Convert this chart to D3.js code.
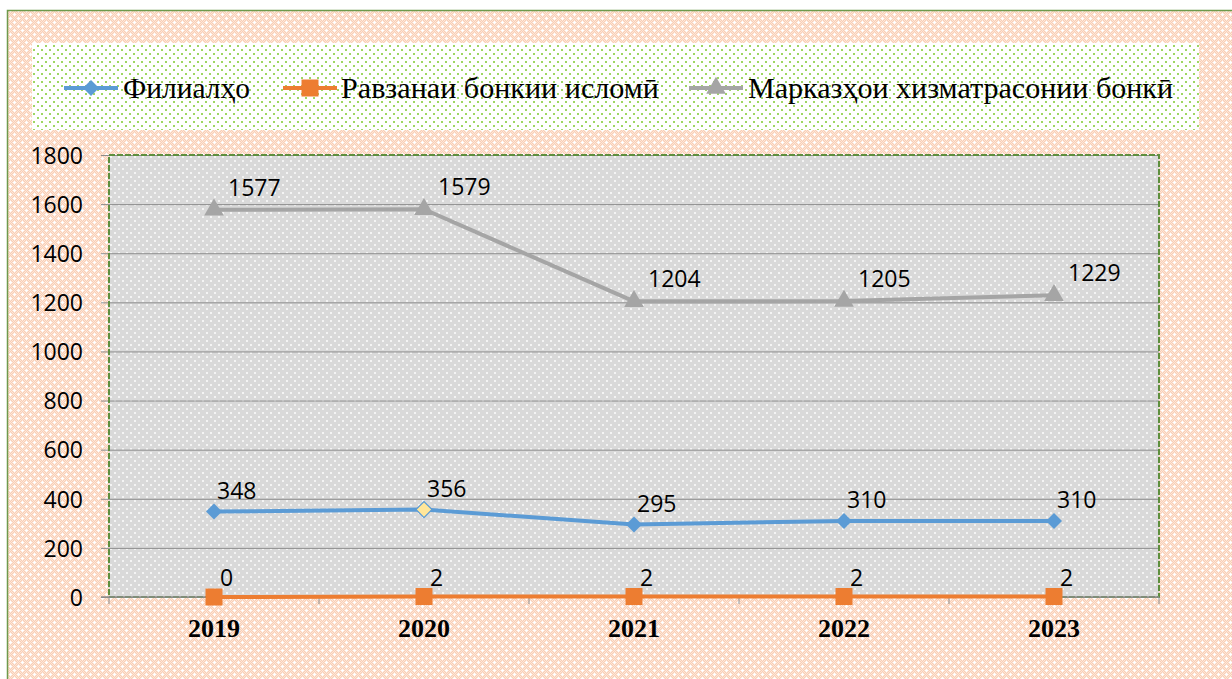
<!DOCTYPE html>
<html>
<head>
<meta charset="utf-8">
<script src="https://cdn.jsdelivr.net/npm/d3@7"></script>
<style>
  html, body { margin: 0; padding: 0; background: #fff; }
  svg { display: block; }
</style>
</head>
<body>
<svg id="chart"></svg>
<script>
// values
const years = ['2019', '2020', '2021', '2022', '2023'];
const branches = [348, 356, 295, 310, 310];
const islamicWindows = [0, 2, 2, 2, 2];
const serviceCenters = [1577, 1579, 1204, 1205, 1229];
const seriesNames = ['Филиалҳо', 'Равзанаи бонкии исломӣ', 'Марказҳои хизматрасонии бонкӣ'];
const yTicks = [0, 200, 400, 600, 800, 1000, 1200, 1400, 1600, 1800];

const W = 1232, H = 679;
const plot = { left: 109, right: 1159, top: 155, bottom: 597 };

const blue = '#5B9BD5';
const orange = '#ED7D31';
const grey = '#A5A5A5';
const frameGreen = '#6E9A4C';

const series = [
    { name: seriesNames[0], values: branches, color: blue, symbol: 'diamond', dx: 3, dy: -13 },
    { name: seriesNames[1], values: islamicWindows, color: orange, symbol: 'square', dx: 6, dy: -11 },
    { name: seriesNames[2], values: serviceCenters, color: grey, symbol: 'triangle', dx: 14, dy: -14 },
];

const svg = d3.select('#chart').attr('width', W).attr('height', H);
const defs = svg.append('defs');

// peach checker background with little white crosses
const bgPat = defs.append('pattern').attr('id', 'bgPat')
    .attr('patternUnits', 'userSpaceOnUse').attr('width', 8).attr('height', 8);
bgPat.append('rect').attr('width', 8).attr('height', 8).attr('fill', '#F9CFB5');
for (let i = 0; i < 8; i++) {
    for (let j = 0; j < 8; j++) {
        if ((i + j) % 2 === 0) {
            bgPat.append('rect').attr('x', i).attr('y', j).attr('width', 1).attr('height', 1).attr('fill', '#FDE6D9');
        }
    }
}
[[2, 2], [6, 6]].forEach(([cx, cy]) => {
    bgPat.append('rect').attr('x', cx - 1).attr('y', cy).attr('width', 3).attr('height', 1).attr('fill', '#fff');
    bgPat.append('rect').attr('x', cx).attr('y', cy - 1).attr('width', 1).attr('height', 3).attr('fill', '#fff');
});

// grey plot area with white dots
const plotPat = defs.append('pattern').attr('id', 'plotPat')
    .attr('patternUnits', 'userSpaceOnUse').attr('width', 8).attr('height', 8)
    .attr('x', plot.left).attr('y', plot.top);
plotPat.append('rect').attr('width', 8).attr('height', 8).attr('fill', '#D9D9D9');
plotPat.append('rect').attr('x', 1).attr('y', 1).attr('width', 2).attr('height', 2).attr('fill', '#F4F4F4');
plotPat.append('rect').attr('x', 5).attr('y', 5).attr('width', 2).attr('height', 2).attr('fill', '#F4F4F4');

// white legend with green dots
const legPat = defs.append('pattern').attr('id', 'legPat')
    .attr('patternUnits', 'userSpaceOnUse').attr('width', 8).attr('height', 8);
legPat.append('rect').attr('width', 8).attr('height', 8).attr('fill', '#fff');
legPat.append('rect').attr('x', 1).attr('y', 1).attr('width', 2).attr('height', 2).attr('fill', '#9ED663');
legPat.append('rect').attr('x', 5).attr('y', 5).attr('width', 2).attr('height', 2).attr('fill', '#9ED663');

// chart frame
svg.append('rect')
    .attr('x', 7.5).attr('y', 10.5)
    .attr('width', W).attr('height', H)
    .attr('fill', 'url(#bgPat)')
    .attr('stroke', frameGreen).attr('stroke-width', 1.5);

// legend
const legend = svg.append('g').attr('class', 'legend');
legend.append('rect')
    .attr('x', 32).attr('y', 43).attr('width', 1167).attr('height', 87)
    .attr('fill', 'url(#legPat)');

const symbolPath = (kind, r) => {
    if (kind === 'diamond') return d3.symbol(d3.symbolSquare, r * r * 2)();
    if (kind === 'square') return d3.symbol(d3.symbolSquare, r * r * 4)();
    return d3.symbol(d3.symbolTriangle, r * r * 1.85)();
};
const symbolSize = { diamond: 8, square: 8.5, triangle: 9.5 };

const legendItems = [
    { x: 64, textX: 123, textW: 127 },
    { x: 283, textX: 341, textW: 318 },
    { x: 689, textX: 748, textW: 425 },
];
const legendY = 88;

legendItems.forEach((item, i) => {
    const s = series[i];
    const g = legend.append('g');
    g.append('line')
        .attr('x1', item.x).attr('x2', item.x + 54)
        .attr('y1', legendY).attr('y2', legendY)
        .attr('stroke', s.color).attr('stroke-width', 4);
    g.append('path')
        .attr('d', symbolPath(s.symbol, symbolSize[s.symbol]))
        .attr('transform', `translate(${item.x + 27},${legendY})${s.symbol === 'diamond' ? ' rotate(45)' : ''}`)
        .attr('fill', s.color);
    g.append('text')
        .attr('x', item.textX).attr('y', legendY + 10)
        .attr('textLength', item.textW)
        .attr('lengthAdjust', 'spacingAndGlyphs')
        .style('font-family', '"Liberation Serif", "Times New Roman", serif')
        .style('font-size', '30px')
        .style('fill', '#000')
        .text(s.name);
});

// scales
const xScale = d3.scaleBand().domain(years).range([plot.left, plot.right]);
const yScale = d3.scaleLinear().domain([0, 1800]).range([plot.bottom, plot.top]);
const posX = (i) => xScale(years[i]) + xScale.bandwidth() / 2;

// plot area
svg.append('rect')
    .attr('x', plot.left).attr('y', plot.top)
    .attr('width', plot.right - plot.left).attr('height', plot.bottom - plot.top)
    .attr('fill', 'url(#plotPat)');

// gridlines + y axis
const yAxis = d3.axisLeft(yScale)
    .tickValues(yTicks)
    .tickFormat(d3.format('d'))
    .tickSize(-(plot.right - plot.left))
    .tickSizeOuter(0)
    .tickPadding(26);

const yAxisG = svg.append('g')
    .attr('class', 'y axis')
    .attr('transform', `translate(${plot.left},0)`)
    .call(yAxis);
yAxisG.select('.domain').remove();
yAxisG.selectAll('.tick line')
    .attr('x1', -8)
    .attr('stroke', '#8C8C8C').attr('stroke-width', 1);
yAxisG.selectAll('.tick text')
    .attr('dy', '0.36em')
    .style('font-family', '"Open Sans", "Liberation Sans", sans-serif')
    .style('font-size', '23px')
    .style('fill', '#000');

// plot border (dashed green)
svg.append('rect')
    .attr('x', plot.left).attr('y', plot.top)
    .attr('width', plot.right - plot.left).attr('height', plot.bottom - plot.top)
    .attr('fill', 'none')
    .attr('stroke', '#5E8F3E').attr('stroke-width', 2)
    .attr('stroke-dasharray', '6,2');

// x axis
svg.append('line')
    .attr('x1', plot.left - 8).attr('x2', plot.right)
    .attr('y1', plot.bottom).attr('y2', plot.bottom)
    .attr('stroke', '#8C8C8C').attr('stroke-width', 1.5);

const edges = years.map((d) => xScale(d)).concat([xScale.range()[1]]);
svg.append('g').selectAll('line')
    .data(edges)
    .enter()
    .append('line')
    .attr('x1', (d) => d).attr('x2', (d) => d)
    .attr('y1', plot.bottom).attr('y2', plot.bottom + 7)
    .attr('stroke', '#8C8C8C').attr('stroke-width', 1);

const xAxis = d3.axisBottom(xScale).tickSize(0).tickPadding(22);
const xAxisG = svg.append('g')
    .attr('class', 'x axis')
    .attr('transform', `translate(0,${plot.bottom})`)
    .call(xAxis);
xAxisG.select('.domain').remove();
xAxisG.selectAll('.tick text')
    .style('font-family', '"Liberation Serif", "Times New Roman", serif')
    .style('font-weight', 'bold')
    .style('font-size', '26px')
    .style('fill', '#000');

// series lines, markers and labels (grey first so blue/orange sit on top)
const line = d3.line()
    .x((d, i) => posX(i))
    .y((d) => yScale(d));

[series[2], series[0], series[1]].forEach((s) => {
    const g = svg.append('g').attr('class', 'series');
    g.append('path')
        .datum(s.values)
        .attr('d', line)
        .attr('fill', 'none')
        .attr('stroke', s.color)
        .attr('stroke-width', 4)
        .attr('stroke-linejoin', 'round');

    g.selectAll('.marker')
        .data(s.values)
        .enter()
        .append('path')
        .attr('class', 'marker')
        .attr('d', symbolPath(s.symbol, symbolSize[s.symbol]))
        .attr('transform', (d, i) => `translate(${posX(i)},${yScale(d)})${s.symbol === 'diamond' ? ' rotate(45)' : ''}`)
        // the 2020 branch point is highlighted in the original
        .attr('fill', (d, i) => (s.symbol === 'diamond' && i === 1 ? '#FFE699' : s.color))
        .attr('stroke', (d, i) => (s.symbol === 'diamond' && i === 1 ? s.color : 'none'))
        .attr('stroke-width', 1.2);

    g.selectAll('.label')
        .data(s.values)
        .enter()
        .append('text')
        .attr('class', 'label')
        .attr('x', (d, i) => posX(i) + s.dx)
        .attr('y', (d) => yScale(d) + s.dy)
        .style('font-family', '"Open Sans", "Liberation Sans", sans-serif')
        .style('font-size', '23px')
        .style('fill', '#000')
        .text((d) => d);
});
</script>
</body>
</html>
